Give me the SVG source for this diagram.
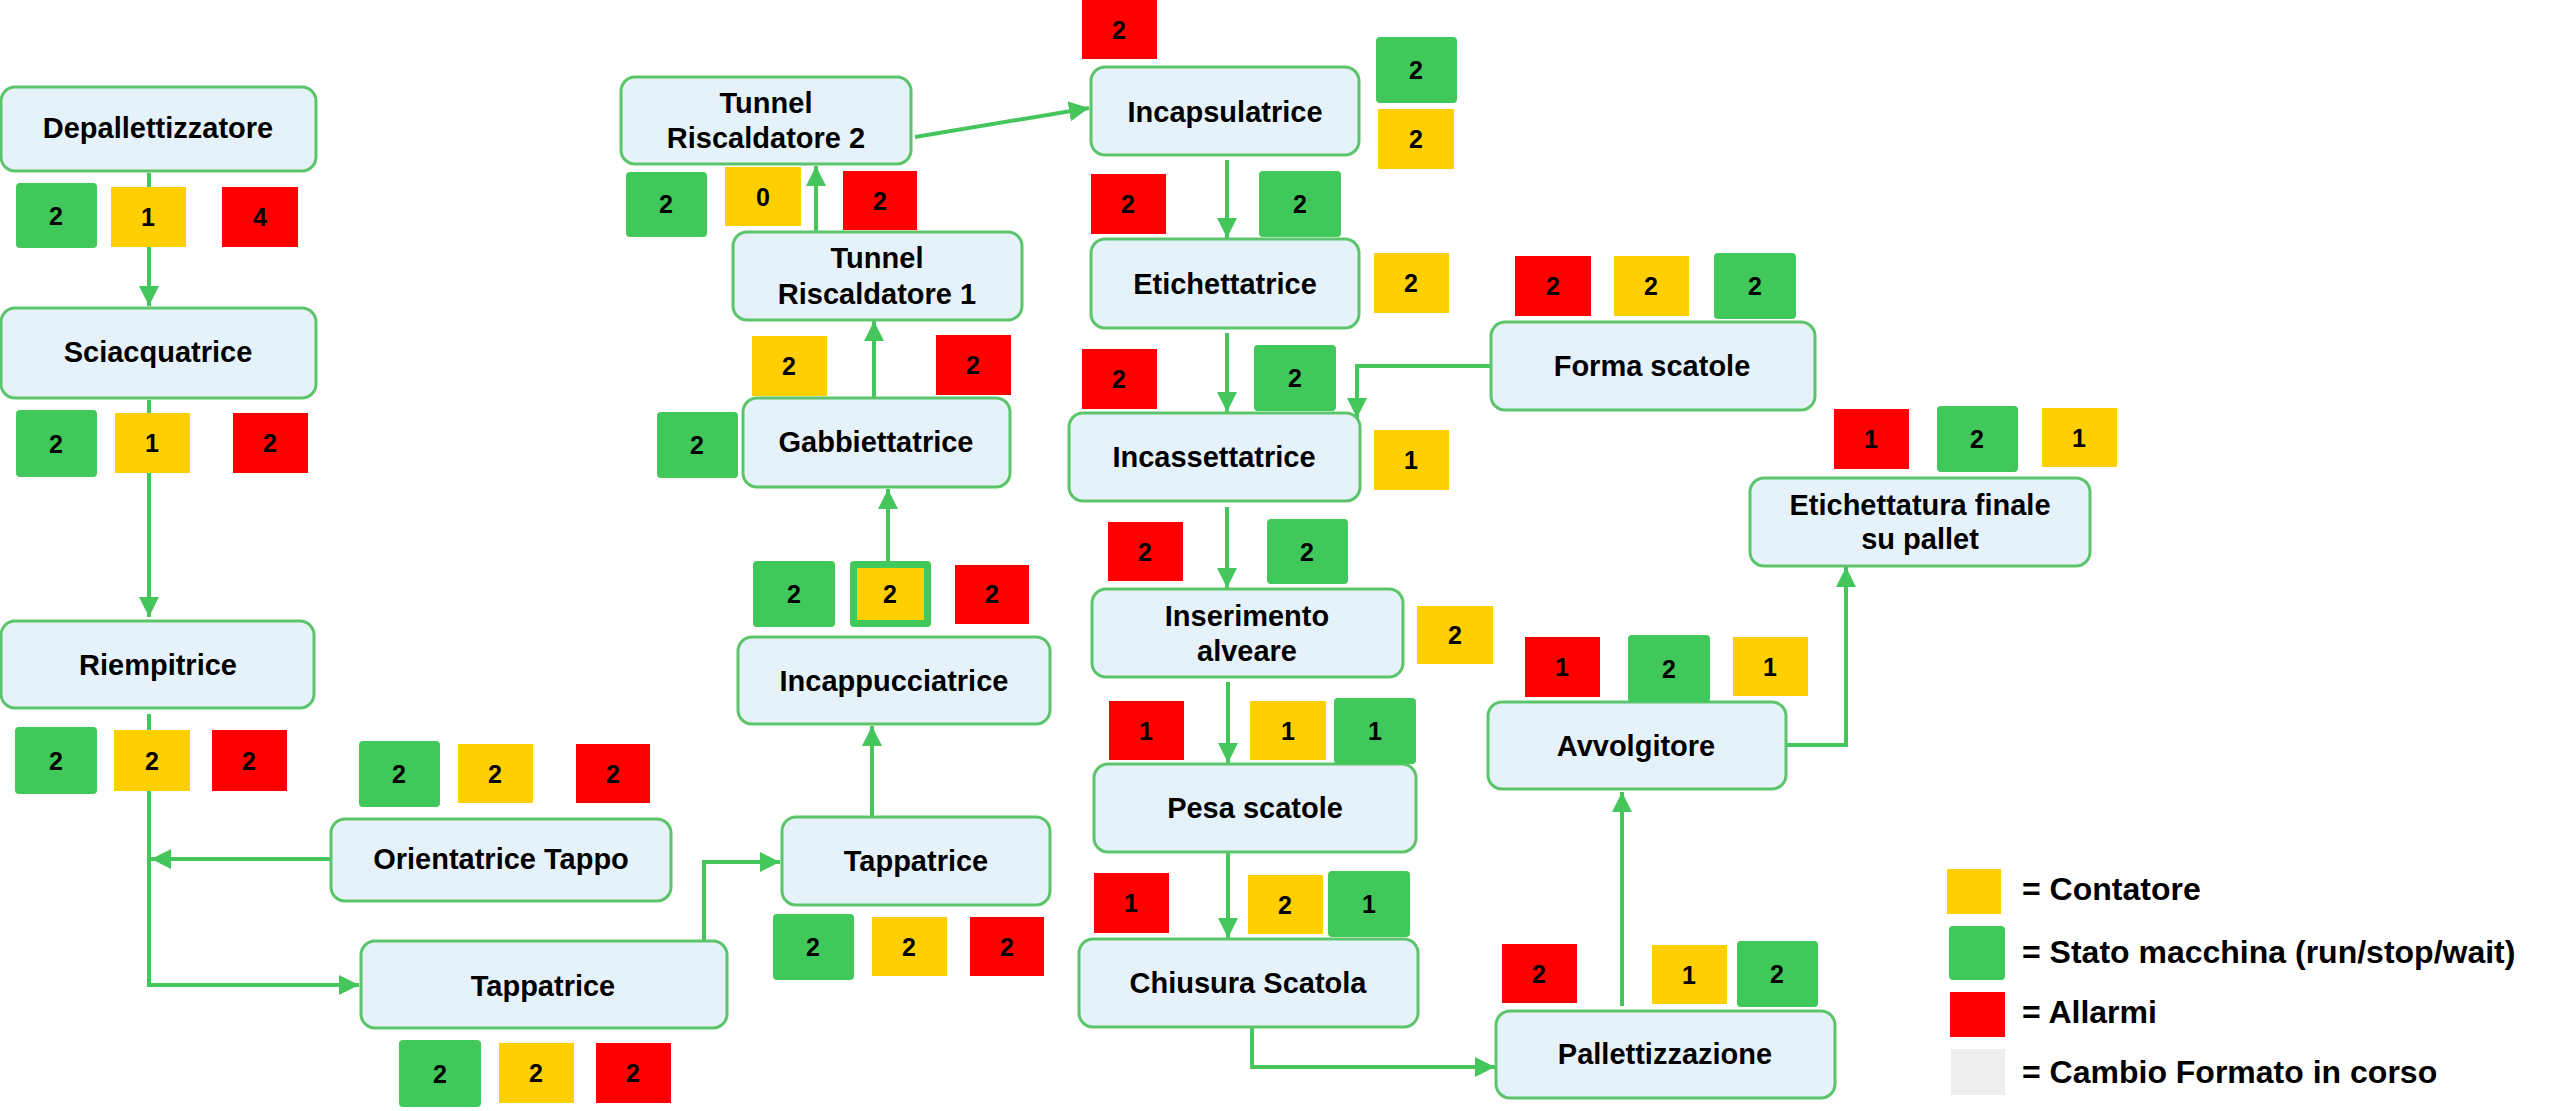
<svg xmlns="http://www.w3.org/2000/svg" width="2560" height="1111" viewBox="0 0 2560 1111">
<defs>
<style>
.box{fill:#e6f2f9;stroke:#5cc56b;stroke-width:3}
.lbl{font-family:"Liberation Sans",Arial,sans-serif;font-weight:bold;font-size:29px;fill:#000;text-anchor:middle}
.num{font-family:"Liberation Sans",Arial,sans-serif;font-weight:bold;font-size:25px;fill:#000;text-anchor:middle}
.leg{font-family:"Liberation Sans",Arial,sans-serif;font-weight:bold;font-size:32px;fill:#000}
.g{fill:#41c85a}
.y{fill:#ffcf00}
.r{fill:#ff0000}
.conn{fill:none;stroke:#45c65d;stroke-width:4}
</style>
<marker id="ah" markerUnits="userSpaceOnUse" markerWidth="22" markerHeight="22" refX="20" refY="10" orient="auto">
<path d="M0,0 L20,10 L0,20 z" fill="#45c65d"/>
</marker>
</defs>
<rect width="2560" height="1111" fill="#ffffff"/>

<g id="connectors">
<path class="conn" d="M149,173 V306" marker-end="url(#ah)"/>
<path class="conn" d="M149,400 V617" marker-end="url(#ah)"/>
<path class="conn" d="M149,714 V985 H359" marker-end="url(#ah)"/>
<path class="conn" d="M331,859 H151" marker-end="url(#ah)"/>
<path class="conn" d="M704,941 V862 H780" marker-end="url(#ah)"/>
<path class="conn" d="M872,816 V726" marker-end="url(#ah)"/>
<path class="conn" d="M888,561 V489" marker-end="url(#ah)"/>
<path class="conn" d="M874,398 V321" marker-end="url(#ah)"/>
<path class="conn" d="M816,232 V166" marker-end="url(#ah)"/>
<path class="conn" d="M915,137 L1089,108" marker-end="url(#ah)"/>
<path class="conn" d="M1227,160 V238" marker-end="url(#ah)"/>
<path class="conn" d="M1227,333 V412" marker-end="url(#ah)"/>
<path class="conn" d="M1490,366 H1357 V418" marker-end="url(#ah)"/>
<path class="conn" d="M1227,507 V588" marker-end="url(#ah)"/>
<path class="conn" d="M1228,682 V763" marker-end="url(#ah)"/>
<path class="conn" d="M1228,853 V938" marker-end="url(#ah)"/>
<path class="conn" d="M1252,1027 V1067 H1495" marker-end="url(#ah)"/>
<path class="conn" d="M1622,1006 V792" marker-end="url(#ah)"/>
<path class="conn" d="M1786,745 H1846 V567" marker-end="url(#ah)"/>
</g>

<g id="n-depallettizzatore">
<rect class="box" x="1" y="87" width="315" height="84" rx="14"/>
<text class="lbl" x="158" y="138">Depallettizzatore</text>
<rect class="g" x="16" y="183" width="81" height="65" rx="4"/><text class="num" x="56" y="225">2</text>
<rect class="y" x="111" y="187" width="75" height="60"/><text class="num" x="148" y="226">1</text>
<rect class="r" x="222" y="187" width="76" height="60"/><text class="num" x="260" y="226">4</text>
</g>

<g id="n-sciacquatrice">
<rect class="box" x="1" y="308" width="315" height="90" rx="14"/>
<text class="lbl" x="158" y="362">Sciacquatrice</text>
<rect class="g" x="16" y="410" width="81" height="67" rx="4"/><text class="num" x="56" y="453">2</text>
<rect class="y" x="115" y="413" width="75" height="60"/><text class="num" x="152" y="452">1</text>
<rect class="r" x="233" y="413" width="75" height="60"/><text class="num" x="270" y="452">2</text>
</g>

<g id="n-riempitrice">
<rect class="box" x="1" y="621" width="313" height="87" rx="14"/>
<text class="lbl" x="158" y="675">Riempitrice</text>
<rect class="g" x="15" y="727" width="82" height="67" rx="4"/><text class="num" x="56" y="770">2</text>
<rect class="y" x="114" y="730" width="76" height="61"/><text class="num" x="152" y="770">2</text>
<rect class="r" x="212" y="730" width="75" height="61"/><text class="num" x="249" y="770">2</text>
</g>

<g id="n-orientatrice">
<rect class="box" x="331" y="819" width="340" height="82" rx="14"/>
<text class="lbl" x="501" y="869">Orientatrice Tappo</text>
<rect class="g" x="359" y="741" width="81" height="66" rx="4"/><text class="num" x="399" y="783">2</text>
<rect class="y" x="458" y="744" width="75" height="59"/><text class="num" x="495" y="783">2</text>
<rect class="r" x="576" y="744" width="74" height="59"/><text class="num" x="613" y="783">2</text>
</g>

<g id="n-tappatrice1">
<rect class="box" x="361" y="941" width="366" height="87" rx="14"/>
<text class="lbl" x="543" y="996">Tappatrice</text>
<rect class="g" x="399" y="1040" width="82" height="67" rx="4"/><text class="num" x="440" y="1083">2</text>
<rect class="y" x="499" y="1043" width="75" height="60"/><text class="num" x="536" y="1082">2</text>
<rect class="r" x="596" y="1043" width="75" height="60"/><text class="num" x="633" y="1082">2</text>
</g>

<g id="n-tappatrice2">
<rect class="box" x="782" y="817" width="268" height="88" rx="14"/>
<text class="lbl" x="916" y="871">Tappatrice</text>
<rect class="g" x="773" y="914" width="81" height="66" rx="4"/><text class="num" x="813" y="956">2</text>
<rect class="y" x="872" y="917" width="75" height="59"/><text class="num" x="909" y="956">2</text>
<rect class="r" x="970" y="917" width="74" height="59"/><text class="num" x="1007" y="956">2</text>
</g>

<g id="n-incappucciatrice">
<rect class="box" x="738" y="637" width="312" height="87" rx="14"/>
<text class="lbl" x="894" y="691">Incappucciatrice</text>
<rect class="g" x="753" y="561" width="82" height="66" rx="4"/><text class="num" x="794" y="603">2</text>
<rect class="g" x="850" y="561" width="81" height="66" rx="4"/>
<rect class="y" x="857" y="568" width="67" height="52"/><text class="num" x="890" y="603">2</text>
<rect class="r" x="955" y="565" width="74" height="59"/><text class="num" x="992" y="603">2</text>
</g>

<g id="n-gabbiettatrice">
<rect class="box" x="743" y="398" width="267" height="89" rx="14"/>
<text class="lbl" x="876" y="452">Gabbiettatrice</text>
<rect class="g" x="657" y="412" width="81" height="66" rx="4"/><text class="num" x="697" y="454">2</text>
</g>

<g id="n-tunnel1">
<rect class="box" x="733" y="232" width="289" height="88" rx="14"/>
<text class="lbl" x="877" y="268">Tunnel</text>
<text class="lbl" x="877" y="304">Riscaldatore 1</text>
<rect class="y" x="752" y="336" width="75" height="60"/><text class="num" x="789" y="375">2</text>
<rect class="r" x="936" y="335" width="75" height="60"/><text class="num" x="973" y="374">2</text>
</g>

<g id="n-tunnel2">
<rect class="box" x="621" y="77" width="290" height="87" rx="14"/>
<text class="lbl" x="766" y="113">Tunnel</text>
<text class="lbl" x="766" y="148">Riscaldatore 2</text>
<rect class="g" x="626" y="172" width="81" height="65" rx="4"/><text class="num" x="666" y="213">2</text>
<rect class="y" x="725" y="167" width="76" height="59"/><text class="num" x="763" y="206">0</text>
<rect class="r" x="843" y="171" width="74" height="59"/><text class="num" x="880" y="210">2</text>
</g>

<g id="n-incapsulatrice">
<rect class="box" x="1091" y="67" width="268" height="88" rx="14"/>
<text class="lbl" x="1225" y="122">Incapsulatrice</text>
<rect class="r" x="1082" y="0" width="75" height="59"/><text class="num" x="1119" y="39">2</text>
<rect class="g" x="1376" y="37" width="81" height="66" rx="4"/><text class="num" x="1416" y="79">2</text>
<rect class="y" x="1378" y="109" width="76" height="60"/><text class="num" x="1416" y="148">2</text>
</g>

<g id="n-etichettatrice">
<rect class="box" x="1091" y="239" width="268" height="89" rx="14"/>
<text class="lbl" x="1225" y="294">Etichettatrice</text>
<rect class="r" x="1091" y="174" width="75" height="60"/><text class="num" x="1128" y="213">2</text>
<rect class="g" x="1259" y="171" width="82" height="66" rx="4"/><text class="num" x="1300" y="213">2</text>
<rect class="y" x="1374" y="253" width="75" height="60"/><text class="num" x="1411" y="292">2</text>
</g>

<g id="n-incassettatrice">
<rect class="box" x="1069" y="413" width="291" height="88" rx="14"/>
<text class="lbl" x="1214" y="467">Incassettatrice</text>
<rect class="r" x="1082" y="349" width="75" height="60"/><text class="num" x="1119" y="388">2</text>
<rect class="g" x="1254" y="345" width="82" height="66" rx="4"/><text class="num" x="1295" y="387">2</text>
<rect class="y" x="1374" y="430" width="75" height="60"/><text class="num" x="1411" y="469">1</text>
</g>

<g id="n-forma-scatole">
<rect class="box" x="1491" y="322" width="324" height="88" rx="14"/>
<text class="lbl" x="1652" y="376">Forma scatole</text>
<rect class="r" x="1515" y="256" width="76" height="60"/><text class="num" x="1553" y="295">2</text>
<rect class="y" x="1614" y="256" width="75" height="60"/><text class="num" x="1651" y="295">2</text>
<rect class="g" x="1714" y="253" width="82" height="66" rx="4"/><text class="num" x="1755" y="295">2</text>
</g>

<g id="n-inserimento">
<rect class="box" x="1092" y="589" width="311" height="88" rx="14"/>
<text class="lbl" x="1247" y="626">Inserimento</text>
<text class="lbl" x="1247" y="661">alveare</text>
<rect class="r" x="1108" y="522" width="75" height="59"/><text class="num" x="1145" y="561">2</text>
<rect class="g" x="1267" y="519" width="81" height="65" rx="4"/><text class="num" x="1307" y="561">2</text>
<rect class="y" x="1417" y="606" width="76" height="58"/><text class="num" x="1455" y="644">2</text>
</g>

<g id="n-pesa-scatole">
<rect class="box" x="1094" y="764" width="322" height="88" rx="14"/>
<text class="lbl" x="1255" y="818">Pesa scatole</text>
<rect class="r" x="1109" y="701" width="75" height="59"/><text class="num" x="1146" y="740">1</text>
<rect class="y" x="1250" y="701" width="76" height="59"/><text class="num" x="1288" y="740">1</text>
<rect class="g" x="1334" y="698" width="82" height="66" rx="4"/><text class="num" x="1375" y="740">1</text>
</g>

<g id="n-chiusura">
<rect class="box" x="1079" y="939" width="339" height="88" rx="14"/>
<text class="lbl" x="1248" y="993">Chiusura Scatola</text>
<rect class="r" x="1094" y="873" width="75" height="60"/><text class="num" x="1131" y="912">1</text>
<rect class="y" x="1248" y="875" width="75" height="59"/><text class="num" x="1285" y="914">2</text>
<rect class="g" x="1328" y="871" width="82" height="66" rx="4"/><text class="num" x="1369" y="913">1</text>
</g>

<g id="n-pallettizzazione">
<rect class="box" x="1496" y="1011" width="339" height="87" rx="14"/>
<text class="lbl" x="1665" y="1064">Pallettizzazione</text>
<rect class="r" x="1502" y="944" width="75" height="59"/><text class="num" x="1539" y="983">2</text>
<rect class="y" x="1652" y="945" width="75" height="59"/><text class="num" x="1689" y="984">1</text>
<rect class="g" x="1737" y="941" width="81" height="66" rx="4"/><text class="num" x="1777" y="983">2</text>
</g>

<g id="n-avvolgitore">
<rect class="box" x="1488" y="702" width="298" height="87" rx="14"/>
<text class="lbl" x="1636" y="756">Avvolgitore</text>
<rect class="r" x="1525" y="637" width="75" height="60"/><text class="num" x="1562" y="676">1</text>
<rect class="g" x="1628" y="635" width="82" height="67" rx="4"/><text class="num" x="1669" y="678">2</text>
<rect class="y" x="1733" y="637" width="75" height="59"/><text class="num" x="1770" y="676">1</text>
</g>

<g id="n-etichettatura-finale">
<rect class="box" x="1750" y="478" width="340" height="88" rx="14"/>
<text class="lbl" x="1920" y="515">Etichettatura finale</text>
<text class="lbl" x="1920" y="549">su pallet</text>
<rect class="r" x="1834" y="409" width="75" height="60"/><text class="num" x="1871" y="448">1</text>
<rect class="g" x="1937" y="406" width="81" height="66" rx="4"/><text class="num" x="1977" y="448">2</text>
<rect class="y" x="2042" y="408" width="75" height="59"/><text class="num" x="2079" y="447">1</text>
</g>

<g id="legend">
<rect class="y" x="1947" y="869" width="54" height="45"/>
<text class="leg" x="2022" y="900">= Contatore</text>
<rect class="g" x="1949" y="926" width="56" height="54" rx="4"/>
<text class="leg" x="2022" y="963">= Stato macchina (run/stop/wait)</text>
<rect class="r" x="1950" y="992" width="55" height="45"/>
<text class="leg" x="2022" y="1023">= Allarmi</text>
<rect x="1951" y="1049" width="54" height="46" fill="#efefef"/>
<text class="leg" x="2022" y="1083">= Cambio Formato in corso</text>
</g>
</svg>
